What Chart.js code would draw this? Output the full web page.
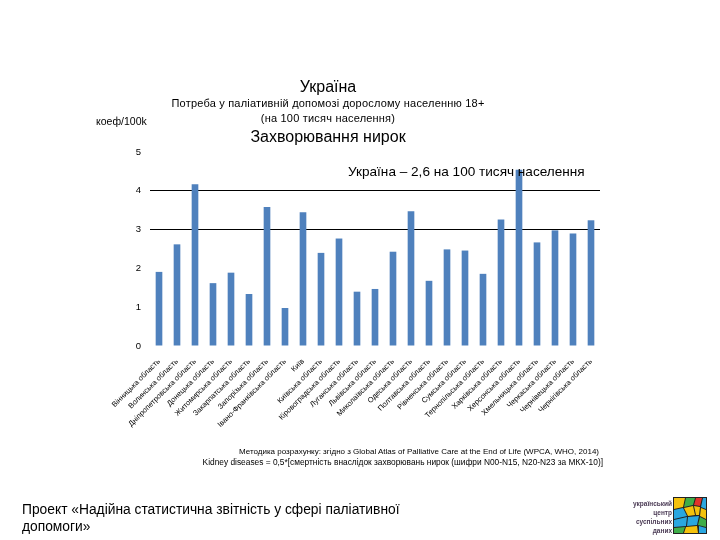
<!DOCTYPE html>
<html lang="uk">
<head>
<meta charset="utf-8">
<title>Захворювання нирок</title>
<script src="https://cdn.jsdelivr.net/npm/chart.js@4.4.1/dist/chart.umd.min.js"></script>
<style>
  html, body { margin: 0; padding: 0; background: #fff; }
  body { width: 720px; height: 540px; position: relative; overflow: hidden; font-family: "Liberation Sans", Arial, sans-serif; color: #000; }
  #grafico { position: absolute; left: 0; top: 0; }
  .txt { position: absolute; white-space: nowrap; line-height: 1; }
  .centro { transform: translateX(-50%); text-align: center; }
</style>
</head>
<body>
<canvas id="grafico" width="720" height="540"></canvas>

<div class="txt centro" style="left:328px; top:79px; font-size:16px;">Україна</div>
<div class="txt centro" style="left:328px; top:98px; font-size:11px; letter-spacing:0.2px;">Потреба у паліативній допомозі дорослому населенню 18+</div>
<div class="txt centro" style="left:328px; top:113px; font-size:11px; letter-spacing:0.2px;">(на 100 тисяч населення)</div>
<div class="txt centro" style="left:328px; top:129px; font-size:16px;">Захворювання нирок</div>
<div class="txt" style="left:96px; top:116px; font-size:10.5px;">коеф/100k</div>
<div class="txt" style="left:348px; top:165px; font-size:13.6px;">Україна – 2,6 на 100 тисяч населення</div>

<div class="txt" style="right:121px; top:448px; font-size:8px;">Методика розрахунку: згідно з Global Atlas of Palliative Care at the End of Life (WPCA, WHO, 2014)</div>
<div class="txt" style="right:117px; top:458px; font-size:8.35px;">Kidney diseases = 0,5*[смертність внаслідок захворювань нирок (шифри N00-N15, N20-N23 за МКХ-10)]</div>

<div class="txt" style="left:22px; top:503px; font-size:13.8px;">Проект «Надійна статистична звітність у сфері паліативної</div>
<div class="txt" style="left:22px; top:520px; font-size:13.8px;">допомоги»</div>

<div class="txt" style="right:48px; top:499px; font-size:6.5px; font-weight:bold; color:#4b3b55; text-align:right; line-height:9px;">український<br>центр<br>суспільних<br>даних</div>
<svg style="position:absolute; left:673px; top:497px;" width="34" height="37" viewBox="0 0 34 37">
  <rect x="0" y="0" width="34" height="37" fill="#222"/>
  <polygon points="1,1 12,1 10,10 1,12" fill="#f4c20d"/>
  <polygon points="13,1 22,1 20,8 11,10" fill="#3fae49"/>
  <polygon points="23,1 29,1 27,9 21,8" fill="#e2342b"/>
  <polygon points="30,1 33,1 33,12 28,10" fill="#2aa7e0"/>
  <polygon points="1,13 10,11 14,19 1,22" fill="#2aa7e0"/>
  <polygon points="11,11 20,9 22,18 15,19" fill="#f4c20d"/>
  <polygon points="21,9 27,10 26,18 23,18" fill="#f4c20d"/>
  <polygon points="28,11 33,13 33,22 27,19" fill="#f4c20d"/>
  <polygon points="1,23 14,20 13,29 1,30" fill="#2aa7e0"/>
  <polygon points="15,20 26,19 24,28 14,29" fill="#2aa7e0"/>
  <polygon points="27,20 33,23 33,30 25,28" fill="#3fae49"/>
  <polygon points="1,31 12,30 10,36 1,36" fill="#3fae49"/>
  <polygon points="13,30 24,29 25,36 11,36" fill="#f4c20d"/>
  <polygon points="26,29 33,31 33,36 26,36" fill="#2aa7e0"/>
</svg>

<script>
// Дані: області та коефіцієнт на 100 тис. населення
const oblasti = [
  'Вінницька область', 'Волинська область', 'Дніпропетровська область', 'Донецька область',
  'Житомирська область', 'Закарпатська область', 'Запорізька область', 'Івано-Франківська область',
  'Київ', 'Київська область', 'Кіровоградська область', 'Луганська область', 'Львівська область',
  'Миколаївська область', 'Одеська область', 'Полтавська область', 'Рівненська область',
  'Сумська область', 'Тернопільська область', 'Харківська область', 'Херсонська область',
  'Хмельницька область', 'Черкаська область', 'Чернівецька область', 'Чернігівська область'
];
const koef = [
  1.91, 2.62, 4.17, 1.62, 1.89, 1.34, 3.58, 0.98, 3.45, 2.40, 2.77, 1.40, 1.47,
  2.43, 3.47, 1.68, 2.49, 2.46, 1.86, 3.26, 4.54, 2.67, 2.98, 2.90, 3.24
];
const yMin = 0;
const yMax = 5;
const yKrok = 1;
const liniiSitky = [3, 4]; // тільки ці лінії видно на слайді

const canvas = document.getElementById('grafico');
new Chart(canvas, {
  type: 'bar',
  data: {
    labels: oblasti,
    datasets: [{
      label: 'коеф/100k',
      data: koef,
      backgroundColor: '#4f81bd',
      barPercentage: 0.37,
      categoryPercentage: 1.0
    }]
  },
  options: {
    responsive: false,
    animation: false,
    layout: {
      padding: { top: 152, left: 100, right: 120, bottom: 100 }
    },
    scales: {
      x: {
        grid: { display: false },
        border: { display: false },
        ticks: {
          autoSkip: false,
          minRotation: 45,
          maxRotation: 45,
          padding: 3,
          color: '#000',
          font: { family: '"Liberation Sans", Arial, sans-serif', size: 7.5 }
        },
        afterFit: function (scale) { scale.height = 94; }
      },
      y: {
        min: yMin,
        max: yMax,
        border: { display: false },
        grid: {
          drawTicks: false,
          lineWidth: 1,
          color: function (ctx) {
            return (ctx.tick && liniiSitky.includes(ctx.tick.value)) ? '#000' : 'rgba(0,0,0,0)';
          }
        },
        ticks: {
          stepSize: yKrok,
          padding: 9,
          color: '#000',
          font: { family: '"Liberation Sans", Arial, sans-serif', size: 9.5 }
        },
        afterFit: function (scale) { scale.width = 50; }
      }
    },
    plugins: {
      legend: { display: false },
      title: { display: false },
      tooltip: { enabled: false }
    }
  }
});
</script>
</body>
</html>
